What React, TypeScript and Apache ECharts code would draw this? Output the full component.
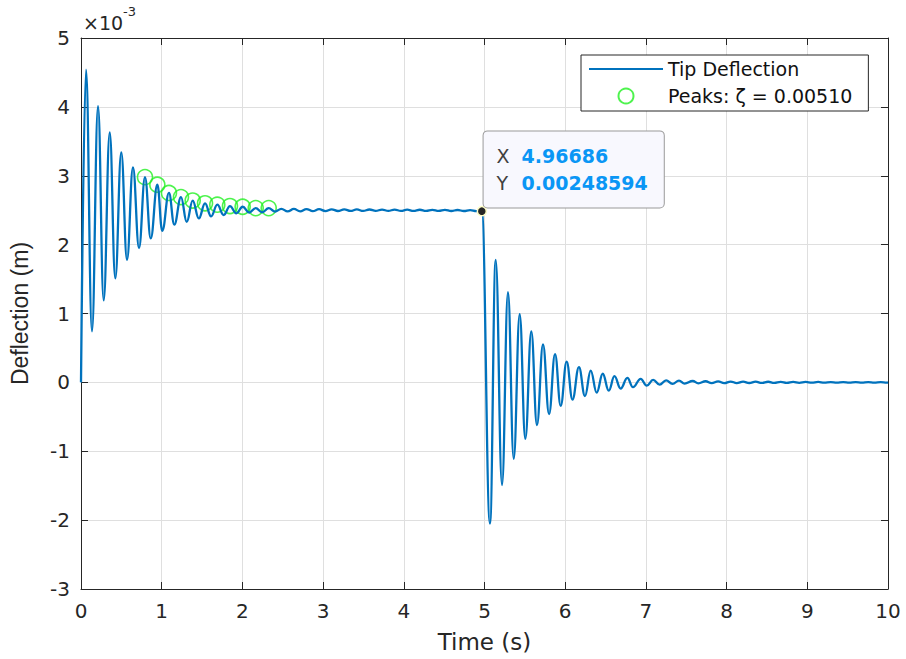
import React, { useEffect, useRef } from "react";
import * as echarts from "echarts";

// Tip deflection (values in units of 1e-3 m), read at the extrema of the trace
const tipTime = [
  0, 0.062, 0.136, 0.211, 0.281, 0.356, 0.425, 0.499, 0.57, 0.644, 0.719, 0.793, 0.864, 0.946, 1.007, 1.09,
  1.156, 1.239, 1.31, 1.384, 1.46, 1.537, 1.612, 1.689, 1.768, 1.846, 1.925, 2.003, 2.084, 2.165, 2.245, 2.326,
  2.405, 2.483, 2.56, 2.638, 2.716, 2.794, 2.872, 2.95, 3.028, 3.106, 3.184, 3.262, 3.34, 3.418, 3.496, 3.574,
  3.652, 3.73, 3.808, 3.886, 3.964, 4.042, 4.12, 4.198, 4.276, 4.354, 4.432, 4.51, 4.588, 4.666, 4.744, 4.822,
  4.9, 4.96686,
  5.068, 5.139, 5.217, 5.291, 5.362, 5.436, 5.506, 5.58, 5.65, 5.725, 5.8, 5.874, 5.944, 6.018, 6.09, 6.17,
  6.245, 6.316, 6.39, 6.465, 6.54, 6.61, 6.687, 6.77, 6.84, 6.935, 7.01, 7.09, 7.17, 7.25, 7.33, 7.41, 7.48,
  7.58, 7.65, 7.74, 7.815, 7.895, 7.97, 8.05, 8.125, 8.205, 8.28, 8.36, 8.435, 8.515, 8.59, 8.67, 8.745, 8.825,
  8.9, 8.98, 9.055, 9.135, 9.21, 9.29, 9.365, 9.445, 9.52, 9.6, 9.675, 9.755, 9.83, 9.91, 9.985, 10.0,
];
const tipDefl = [
  0, 4.54, 0.74, 4.01, 1.19, 3.63, 1.51, 3.34, 1.78, 3.12, 1.95, 2.98, 2.09, 2.87, 2.2, 2.75,
  2.29, 2.69, 2.33, 2.64, 2.38, 2.6, 2.41, 2.58, 2.43, 2.56, 2.455, 2.55, 2.465, 2.53, 2.47, 2.53,
  2.48, 2.52, 2.482, 2.518, 2.484, 2.516, 2.486, 2.515, 2.487, 2.513, 2.488, 2.512, 2.489, 2.511, 2.489, 2.51,
  2.49, 2.509, 2.49, 2.508, 2.49, 2.507, 2.49, 2.506, 2.49, 2.505, 2.489, 2.504, 2.488, 2.503, 2.488, 2.502,
  2.487, 2.48594,
  -2.05, 1.78, -1.49, 1.31, -1.11, 0.99, -0.82, 0.74, -0.62, 0.55, -0.46, 0.41, -0.34, 0.3, -0.25, 0.22,
  -0.2, 0.17, -0.15, 0.125, -0.12, 0.09, -0.09, 0.065, -0.07, 0.05, -0.048, 0.035, -0.033, 0.03, -0.022, 0.026, -0.018,
  0.02, -0.014, 0.016, -0.012, 0.014, -0.011, 0.012, -0.01, 0.011, -0.009, 0.01, -0.008, 0.009, -0.007, 0.008, -0.007, 0.007,
  -0.006, 0.006, -0.005, 0.006, -0.005, 0.005, -0.004, 0.005, -0.004, 0.004, -0.004, 0.004, -0.003, 0.003, -0.003, 0,
];

// Detected peaks (green circles)
const peakTime = [0.793, 0.946, 1.09, 1.239, 1.384, 1.537, 1.689, 1.846, 2.003, 2.165, 2.326];
const peakDefl = [2.98, 2.87, 2.75, 2.69, 2.64, 2.6, 2.58, 2.56, 2.55, 2.53, 2.53];

// Data tip
const dataTipX = 4.96686;
const dataTipY = 0.00248594;

const lineName = "Tip Deflection";
const peakName = "Peaks: ζ = 0.00510";
const xName = "Time (s)";
const yName = "Deflection (m)";
const xRange = [0, 10];
const yRange = [-3, 5];

const ARIAL = "'Liberation Sans', Arial, Helvetica, sans-serif";
const WIDE = "'DejaVu Sans', 'Liberation Sans', sans-serif";
const AX = "#262626";

export default function App() {
  const ref = useRef<HTMLDivElement>(null);
  useEffect(() => {
    if (!ref.current) return;
    const chart = echarts.init(ref.current, null, { renderer: "svg" });
    const tickStyle = { show: true, inside: true, length: 7, lineStyle: { color: AX, width: 1 } };
    const axLine = { show: true, onZero: false, lineStyle: { color: AX, width: 1 } };
    chart.setOption({
      animation: false,
      backgroundColor: "#ffffff",
      textStyle: { fontFamily: WIDE },
      grid: { left: 81, top: 38, width: 807, height: 551, containLabel: false },
      legend: {
        show: true,
        orient: "vertical",
        left: 581,
        top: 55,
        backgroundColor: "#ffffff",
        borderColor: AX,
        borderWidth: 1,
        borderRadius: 0,
        padding: [4, 16, 5, 8],
        itemWidth: 74,
        itemHeight: 15,
        itemGap: 7,
        textStyle: { fontSize: 19, color: "#111", fontFamily: WIDE, lineHeight: 20 },
        data: [
          { name: lineName, icon: "path://M0,0L74,0L74,2.2L0,2.2Z" },
          { name: peakName },
        ],
      },
      xAxis: [
        {
          type: "value",
          min: xRange[0],
          max: xRange[1],
          interval: 1,
          position: "bottom",
          name: xName,
          nameLocation: "middle",
          nameGap: 41,
          nameTextStyle: { fontSize: 23, color: AX, fontFamily: WIDE },
          axisLine: axLine,
          axisTick: tickStyle,
          axisLabel: { fontSize: 20, color: AX, margin: 12, fontFamily: WIDE },
          splitLine: { show: true, lineStyle: { color: "#dfdfdf", width: 1 } },
        },
        {
          type: "value",
          min: xRange[0],
          max: xRange[1],
          interval: 1,
          position: "top",
          axisLine: axLine,
          axisTick: tickStyle,
          axisLabel: { show: false },
          splitLine: { show: false },
        },
      ],
      yAxis: [
        {
          type: "value",
          min: yRange[0],
          max: yRange[1],
          interval: 1,
          position: "left",
          name: yName,
          nameLocation: "middle",
          nameGap: 50,
          nameRotate: 90,
          nameTextStyle: { fontSize: 23, color: AX, fontFamily: ARIAL },
          axisLine: axLine,
          axisTick: tickStyle,
          axisLabel: { fontSize: 20, color: AX, margin: 11, fontFamily: WIDE },
          splitLine: { show: true, lineStyle: { color: "#dfdfdf", width: 1 } },
        },
        {
          type: "value",
          min: yRange[0],
          max: yRange[1],
          interval: 1,
          position: "right",
          axisLine: axLine,
          axisTick: tickStyle,
          axisLabel: { show: false },
          splitLine: { show: false },
        },
      ],
      series: [
        {
          name: lineName,
          type: "line",
          xAxisIndex: 0,
          yAxisIndex: 0,
          data: tipTime.map((t, i) => [t, tipDefl[i]]),
          symbol: "none",
          showSymbol: false,
          smooth: 0.42,
          smoothMonotone: "x",
          lineStyle: { color: "#0072BD", width: 2.3 },
          itemStyle: { color: "#0072BD" },
          markPoint: {
            symbol: "circle",
            symbolSize: 9,
            itemStyle: { color: "#262626", borderColor: "#ffffc8", borderWidth: 1.5 },
            data: [
              {
                coord: [dataTipX, dataTipY * 1000],
                label: {
                  show: true,
                  position: [7, 1.5],
                  align: "left",
                  verticalAlign: "bottom",
                  backgroundColor: "#f8f8fe",
                  borderColor: "#9a9a9a",
                  borderWidth: 1,
                  borderRadius: 4,
                  padding: [11, 16, 11, 13],
                  formatter: `{k|X}{v|${dataTipX}}\n{k|Y}{v|${dataTipY}}`,
                  rich: {
                    k: { color: "#404040", fontSize: 19, lineHeight: 27, width: 25, fontFamily: WIDE },
                    v: { color: "#0a96f5", fontSize: 19, lineHeight: 27, fontWeight: "bold", fontFamily: WIDE },
                  },
                },
              },
            ],
          },
        },
        {
          name: peakName,
          type: "scatter",
          xAxisIndex: 0,
          yAxisIndex: 0,
          data: peakTime.map((t, i) => [t, peakDefl[i]]),
          symbol: "circle",
          symbolSize: 15,
          itemStyle: { color: "rgba(0,0,0,0)", borderColor: "#22f022", borderWidth: 1.6 },
        },
      ],
      graphic: [
        { type: "text", left: 83, top: 13, style: { text: "×10", fontSize: 19, fill: AX, fontFamily: WIDE } },
        { type: "text", left: 123, top: 5, style: { text: "-3", fontSize: 13, fill: AX, fontFamily: WIDE } },
      ],
    });
    return () => chart.dispose();
  }, []);
  return (
    <div
      ref={ref}
      style={{ position: "absolute", left: 0, top: 0, width: 906, height: 659 }}
    />
  );
}
